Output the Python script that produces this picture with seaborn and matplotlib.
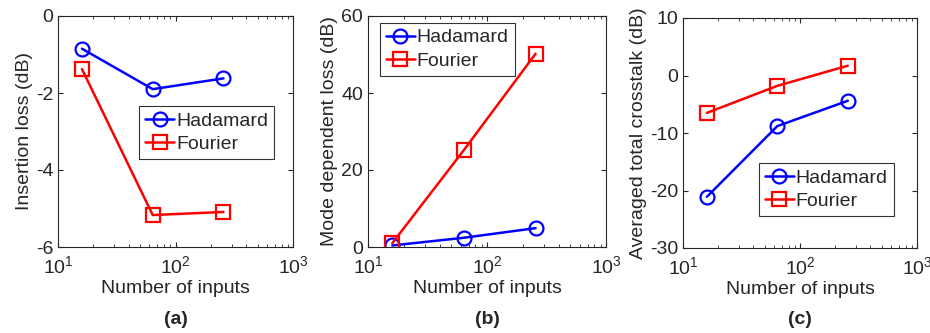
import numpy as np
import pandas as pd
import matplotlib
matplotlib.use("Agg")
import matplotlib.pyplot as plt
import seaborn as sns

sns.set_style("ticks")
plt.rcParams['font.family'] = ['Liberation Sans', 'DejaVu Sans']
plt.rcParams['axes.unicode_minus'] = False

n_inputs = [16, 64, 256]
series = ["Hadamard", "Fourier"]
ins_had = [-0.85, -1.9, -1.62]
ins_fou = [-1.38, -5.17, -5.09]
mdl_had = [0.4, 2.4, 4.9]
mdl_fou = [1.0, 25.2, 50.2]
xt_had = [-21.1, -8.8, -4.4]
xt_fou = [-6.5, -1.8, 1.7]

panels = [
    ("Insertion loss (dB)", ins_had, ins_fou, (-6, 0), [-6, -4, -2, 0], "(a)"),
    ("Mode dependent loss (dB)", mdl_had, mdl_fou, (0, 60), [0, 20, 40, 60], "(b)"),
    ("Averaged total crosstalk (dB)", xt_had, xt_fou, (-30, 10), [-30, -20, -10, 0, 10], "(c)"),
]

fig = plt.figure(figsize=(9.3, 3.33), dpi=100)
rects = [(58, 16, 293, 247), (368, 16, 606, 247), (683, 18, 917, 248)]
legend_specs = [
    dict(loc="upper right", bbox_to_anchor=(0.92, 0.61)),
    dict(loc="upper left", bbox_to_anchor=(0.05, 0.97)),
    dict(loc="lower right", bbox_to_anchor=(0.90, 0.14)),
]
W, H = 930, 333
fs = 14
lfs = 14
for (ylab, had, fou, ylim, yt, tag), (l, t, r, b), lspec in zip(panels, rects, legend_specs):
    ax = fig.add_axes([l / W, 1 - b / H, (r - l) / W, (b - t) / H])
    df = pd.DataFrame({
        "n": n_inputs * 2,
        "val": had + fou,
        "series": [series[0]] * 3 + [series[1]] * 3,
    })
    sns.lineplot(data=df, x="n", y="val", hue="series", style="series",
                 palette={"Hadamard": "#0000ff", "Fourier": "#ff0000"},
                 markers={"Hadamard": "o", "Fourier": "s"},
                 dashes=False, linewidth=1.8, markersize=10,
                 markerfacecolor="none", markeredgewidth=1.6, ax=ax)
    for line in ax.get_lines():
        line.set_markerfacecolor("none")
        line.set_markeredgecolor(line.get_color())
    ax.set_xscale("log")
    ax.set_xlim(10, 1000)
    ax.set_ylim(*ylim)
    ax.set_yticks(yt)
    ax.set_xlabel("Number of inputs", fontsize=fs, labelpad=2)
    ax.set_ylabel(ylab, fontsize=fs, labelpad=2)
    ax.tick_params(which="both", direction="in", top=True, right=True, labelsize=fs)
    ax.tick_params(axis="x", pad=6)
    for s in ax.spines.values():
        s.set_linewidth(0.8)
    handles, labels = ax.get_legend_handles_labels()
    for h in handles:
        h.set_markerfacecolor("none")
        h.set_markeredgewidth(1.6)
        h.set_linewidth(1.8)
    leg = ax.legend(handles, labels, fontsize=lfs, frameon=True, fancybox=False,
                    edgecolor="black", handlelength=1.5, handletextpad=0.1,
                    borderpad=0.3, labelspacing=0.3, borderaxespad=0, **lspec)
    leg.get_frame().set_linewidth(0.8)
    cx = (l + r) / 2 / W
    fig.text(cx, 1 - 319 / H, tag, ha="center", va="center", fontsize=fs, fontweight="bold")

fig.savefig("out.png", dpi=100)
